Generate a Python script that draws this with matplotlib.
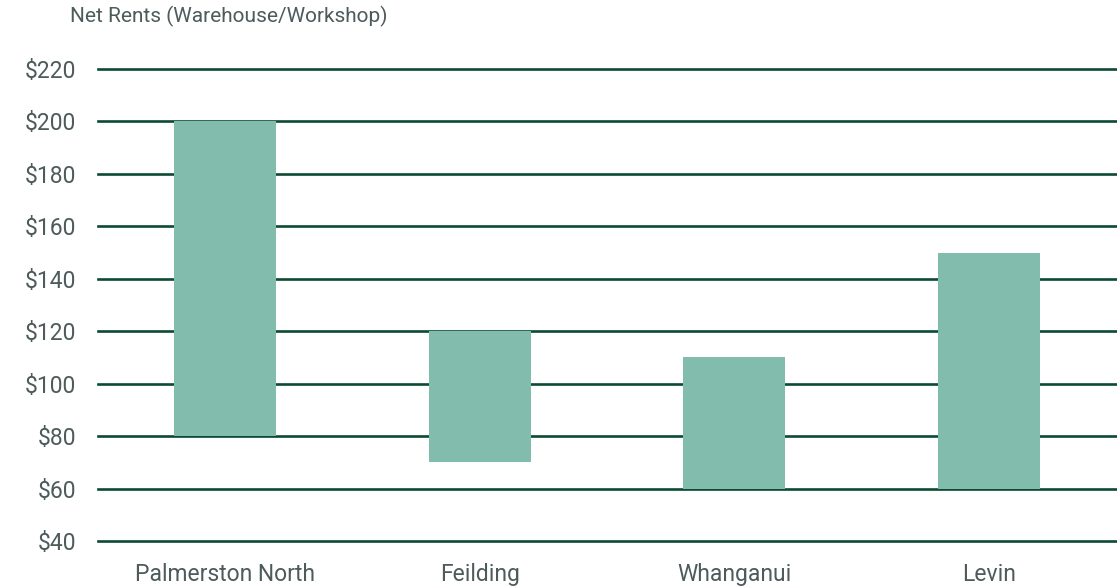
import matplotlib.pyplot as plt
import numpy as np

plt.rcParams['font.family'] = ['Roboto', 'DejaVu Sans']

# floating bars: low and high rent per location
towns = ['Palmerston North', 'Feilding', 'Whanganui', 'Levin']
low = [80, 70, 60, 60]
high = [200, 120, 110, 150]
yticks = [40, 60, 80, 100, 120, 140, 160, 180, 200, 220]

bar_col = '#82bcad'
grid_col = '#0b4a33'
txt_col = '#4d5b5b'

fig = plt.figure(figsize=(11.17, 5.88), dpi=100)
ax = fig.add_axes([98/1117, 47/588, 1018/1117, 472/588])

x = np.arange(len(towns))
ax.bar(x, np.array(high) - np.array(low), bottom=low, width=0.4, color=bar_col, zorder=3)

for v in yticks:
    ax.axhline(v, color=grid_col, lw=1.9, zorder=1, clip_on=False)

ax.set_xlim(-0.5, 3.5)
ax.set_ylim(40, 220)
ax.set_yticks(yticks)
ax.set_yticklabels(['$%d' % v for v in yticks])
ax.set_xticks(x)
ax.set_xticklabels(towns)
ax.tick_params(axis='y', length=0, pad=16, labelsize=16.5, labelcolor=txt_col)
ax.tick_params(axis='x', length=0, pad=16, labelsize=16.5, labelcolor=txt_col)
for s in ax.spines.values():
    s.set_visible(False)

fig.text(70/1117, 1 - 16/588, 'Net Rents (Warehouse/Workshop)', fontsize=15,
         color=txt_col, ha='left', va='center')

fig.savefig('out.png', dpi=100)
